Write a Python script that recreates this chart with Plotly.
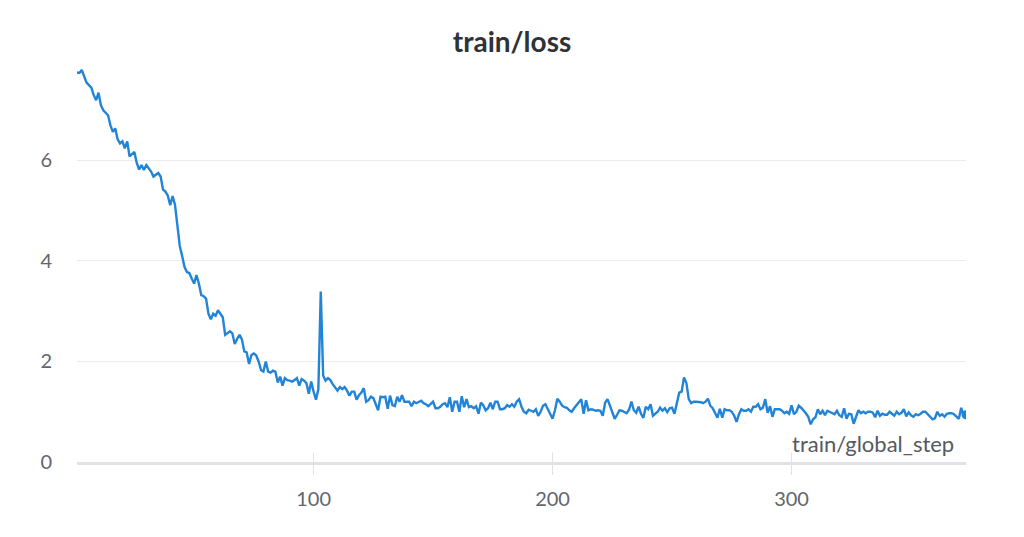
import plotly.graph_objects as go

# train/loss values, by step segment
loss_a = [7.75, 7.74, 7.8, 7.68, 7.55, 7.5, 7.45, 7.3, 7.2, 7.35,
          7.1, 7.0, 6.95, 6.9, 6.7, 6.57, 6.64, 6.42, 6.34, 6.38,
          6.24, 6.38, 6.08, 6.12, 6.17, 5.95, 5.82, 5.91, 5.81, 5.91,
          5.84, 5.78, 5.68, 5.72, 5.75, 5.68, 5.42, 5.38, 5.3, 5.11,
          5.29, 5.12, 4.75, 4.3, 4.1, 3.88, 3.78]
loss_b = [3.76, 3.65, 3.55, 3.72, 3.55, 3.32, 3.3, 3.25, 2.95, 2.84,
          2.95, 2.91, 3.02, 2.95, 2.88, 2.53, 2.57, 2.6, 2.56, 2.35,
          2.45, 2.53, 2.44, 2.2, 2.18, 1.95, 2.13, 2.16, 2.12, 2.0,
          1.83, 1.8, 2.0, 1.8, 1.78, 1.82, 1.8]
loss_c = [1.58, 1.7, 1.52, 1.67, 1.63, 1.62, 1.6, 1.63, 1.67, 1.52,
          1.65, 1.62, 1.57, 1.36, 1.6, 1.4, 1.24, 1.45, 3.39, 1.72,
          1.62, 1.67, 1.63, 1.55, 1.48, 1.42, 1.49, 1.45, 1.49, 1.42,
          1.32, 1.4, 1.4, 1.24, 1.33, 1.38, 1.47, 1.2, 1.23, 1.3,
          1.27, 1.16, 1.03, 1.3, 1.29, 1.3, 1.06, 1.32, 1.13, 1.11,
          1.3, 1.2, 1.33, 1.2, 1.2, 1.2, 1.11, 1.2, 1.17, 1.2]
loss_d = [1.22, 1.17, 1.15, 1.11, 1.15, 1.2, 1.07, 1.07, 1.1, 1.15,
          1.17, 1.09, 1.29, 1.0, 1.2, 1.2, 1.0, 1.31, 1.09, 1.25,
          1.09, 1.11, 1.07, 1.11, 0.96, 1.18, 1.13, 1.03, 1.07, 1.18,
          1.05, 1.2, 1.2, 1.05, 1.05, 1.07, 1.13, 1.1, 1.15, 1.1,
          1.2, 1.25, 1.1, 1.0, 0.97, 1.04, 1.02, 1.0, 1.05, 0.92,
          1.0, 1.12, 1.15, 1.05, 0.95, 0.86, 1.03, 1.26, 1.2, 1.12,
          1.09, 1.08, 1.03, 1.0, 1.07, 1.13, 1.18, 1.25, 0.96, 1.23,
          1.03, 1.05, 1.04, 1.02, 1.03]
loss_e = [1.02, 0.92, 1.18, 1.25, 1.13, 0.98, 0.86, 0.94, 1.03, 1.02,
          1.0, 0.97, 1.04, 1.2, 1.03, 0.98, 1.1, 0.96, 0.88, 1.1,
          1.05, 1.15, 0.92, 0.97, 1.0, 1.08, 1.02, 1.07, 0.99, 1.07,
          1.08, 0.96, 1.15, 1.38, 1.4, 1.68, 1.57, 1.25, 1.17, 1.2,
          1.2, 1.2, 1.19, 1.17, 1.2, 1.26, 1.12, 1.07, 0.98, 0.88,
          1.06, 0.88, 1.05, 1.03, 1.03, 1.0, 0.92, 0.8, 0.95, 1.05,
          1.02, 1.02, 1.05, 1.0, 1.1, 1.1, 1.15, 1.05, 1.08, 1.25,
          0.98, 1.11, 0.9, 1.05, 1.05]
loss_f = [1.05, 1.02, 0.97, 1.0, 0.96, 1.13, 0.95, 1.0, 1.12, 1.08,
          1.03, 0.97, 0.9, 0.75, 0.85, 0.89, 1.05, 0.95, 1.02, 0.93,
          1.02, 1.0, 0.97, 0.95, 1.02, 0.93, 0.9, 1.07, 0.86, 0.96,
          0.95, 0.76, 0.9, 1.03, 0.97, 1.0, 0.97, 1.0, 1.0, 0.98,
          0.89, 1.02, 0.92, 0.96, 0.94, 0.94, 1.0, 0.96, 0.92, 1.0,
          0.95, 0.98, 1.05, 0.91, 0.99, 0.93, 0.9, 0.95, 0.93, 0.96,
          1.0, 1.0, 0.95, 0.9, 0.85, 0.87, 1.0, 0.92, 0.95, 0.9,
          0.96, 0.97, 0.97, 0.95, 0.9, 0.86, 1.08, 0.92, 0.94]

loss = loss_a + loss_b + loss_c + loss_d + loss_e + loss_f
steps = list(range(1, len(loss) + 1))

x_ticks = [100, 200, 300]
y_ticks = [0, 2, 4, 6]

FONT = "Source Sans Pro, Lato, Noto Sans, sans-serif"
LINE = "#2284d6"
AXIS = "#e2e2e6"
TICK = "#62666e"

W, H = 1016, 529  # page body has an 8px margin

fig = go.Figure()
fig.add_trace(go.Scatter(
    x=steps, y=loss, mode="lines",
    line=dict(color=LINE, width=2.4),
    hoverinfo="skip", showlegend=False,
))
fig.add_trace(go.Scatter(
    x=[steps[-1]], y=[loss[-1]], mode="markers",
    marker=dict(color=LINE, size=9),
    hoverinfo="skip", showlegend=False,
))

for v in x_ticks:
    fig.add_shape(type="line", xref="x", yref="paper", x0=v, x1=v, y0=0, y1=0.024,
                  line=dict(color=AXIS, width=1), layer="below")

fig.update_layout(
    width=W, height=H,
    margin=dict(l=69, r=58, t=59, b=75),
    paper_bgcolor="white", plot_bgcolor="white",
    font=dict(family=FONT, size=20, color=TICK),
    title=dict(text="<b>train/loss</b>", x=504 / W, xref="container", xanchor="center",
               y=1 - 34 / H, yref="container", yanchor="middle",
               font=dict(family=FONT, size=28, color="#2f3237")),
    xaxis=dict(range=[1, len(loss)], tickvals=x_ticks, ticktext=[str(v) for v in x_ticks],
               showgrid=False, zeroline=False, showline=True, linecolor=AXIS, linewidth=3,
               ticks="outside", ticklen=10, tickcolor=AXIS, tickwidth=1,
               ticklabelstandoff=7, tickfont=dict(size=20, color=TICK)),
    yaxis=dict(range=[0, 7.86], tickvals=y_ticks, ticktext=[str(v) for v in y_ticks],
               showgrid=True, gridcolor="#ececee", gridwidth=1, zeroline=False,
               showline=False, ticks="", ticklabelstandoff=24,
               tickfont=dict(size=20, color=TICK)),
    annotations=[dict(text="train/global_step", xref="paper", yref="paper",
                      x=1, y=0, xanchor="right", yanchor="bottom",
                      xshift=-10, yshift=3, showarrow=False,
                      font=dict(family=FONT, size=22, color="#555a62"))],
)

fig.write_html("out.html")
